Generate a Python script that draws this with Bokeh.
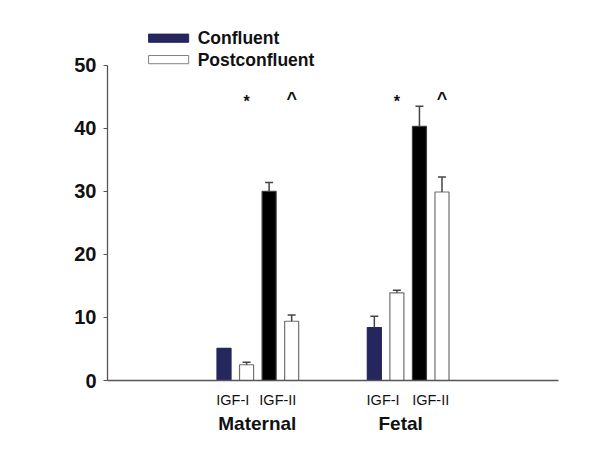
import math
from bokeh.plotting import figure
from bokeh.models import FixedTicker, LinearAxis, Label, Range1d
from bokeh.core.properties import value
from bokeh.embed import file_html
from bokeh.resources import INLINE

# ---- data ----
groups = ["Maternal", "Fetal"]
hormones = ["IGF-I", "IGF-II"]
confluent_igf1 = [5.1, 8.4]
confluent_igf1_err = [0.0, 1.8]
post_igf1 = [2.5, 13.9]
post_igf1_err = [0.4, 0.4]
confluent_igf2 = [30.0, 40.3]
confluent_igf2_err = [1.4, 3.2]
post_igf2 = [9.4, 29.9]
post_igf2_err = [1.0, 2.4]
y_ticks = [0, 10, 20, 30, 40, 50]
legend_labels = ["Confluent", "Postconfluent"]
marks_igf1 = "*"
marks_igf2 = "^"

# ---- layout helpers ----
group_centers = [3.0, 6.0]
offsets = [-0.675, -0.225, 0.225, 0.675]
bar_w = 0.28
FONT = value("Liberation Sans")
NAVY = "#25265e"

p = figure(width=592, height=459, output_backend="svg", toolbar_location=None,
           x_range=Range1d(0, 9), y_range=Range1d(0, 57.9),
           min_border_left=107, min_border_right=34, min_border_top=15, min_border_bottom=79)
p.outline_line_color = None
p.xgrid.visible = False
p.ygrid.visible = False
p.background_fill_color = "white"
p.border_fill_color = "white"

series = [
    (confluent_igf1, confluent_igf1_err, 0, NAVY, NAVY),
    (post_igf1, post_igf1_err, 1, "white", "#707070"),
    (confluent_igf2, confluent_igf2_err, 2, "black", "#404040"),
    (post_igf2, post_igf2_err, 3, "white", "#707070"),
]
for vals, errs, k, fill, line in series:
    xs = [c + offsets[k] for c in group_centers]
    p.vbar(x=xs, top=vals, width=bar_w, bottom=0, fill_color=fill, line_color=line, line_width=1.2)
    ex = [x for x, e in zip(xs, errs) if e > 0]
    ev = [v for v, e in zip(vals, errs) if e > 0]
    et = [v + e for v, e in zip(vals, errs) if e > 0]
    if ex:
        p.segment(x0=ex, y0=ev, x1=ex, y1=et, line_color="#444444", line_width=1.5)
        p.segment(x0=[x - 0.08 for x in ex], y0=et, x1=[x + 0.08 for x in ex], y1=et,
                  line_color="#444444", line_width=1.5)

# significance marks
star_x = [c + offsets[1] for c in group_centers]
hat_x = [c + offsets[3] for c in group_centers]
p.text(x=star_x, y=[44.2, 44.2], text=[marks_igf1, marks_igf1], text_font=FONT,
       text_font_style="bold", text_font_size="16px", text_align="center",
       text_baseline="middle", text_color="#111111")
p.text(x=hat_x, y=[44.6, 44.6], text=[marks_igf2, marks_igf2], text_font=FONT,
       text_font_style="bold", text_font_size="18px", text_align="center",
       text_baseline="middle", text_color="#111111")

# legend
leg_y = [54.3, 50.9]
p.rect(x=[1.22, 1.22], y=leg_y, width=0.8, height=1.3,
       fill_color=[NAVY, "white"], line_color=[NAVY, "#808080"], line_width=1)
p.text(x=[1.80, 1.80], y=leg_y, text=legend_labels, text_font=FONT,
       text_font_style="bold", text_font_size="17.5px", text_baseline="middle",
       text_color="#111111")

# y axis
ya = p.yaxis[0]
ya.ticker = FixedTicker(ticks=y_ticks)
ya.bounds = (0, 50)
ya.axis_line_color = "#555555"
ya.axis_line_width = 1.3
ya.major_tick_line_color = "#555555"
ya.major_tick_out = 4
ya.major_tick_in = 0
ya.minor_tick_line_color = None
ya.major_label_text_font = "Liberation Sans"
ya.major_label_text_font_style = "bold"
ya.major_label_text_font_size = "20px"
ya.major_label_text_color = "#111111"
ya.major_label_standoff = 7

p.add_layout(Label(x=-0.95, y=25, text="IGF Concentration ng/ml", angle=math.pi / 2,
                   text_font="Liberation Sans", text_font_style="bold", text_font_size="20px",
                   text_align="center", text_baseline="middle", text_color="#111111"))

# x axis: hormone labels
xa = p.xaxis[0]
hormone_pos = [2.5, 3.4, 5.5, 6.45]
xa.ticker = FixedTicker(ticks=hormone_pos)
xa.major_label_overrides = {hormone_pos[i]: hormones[i % 2] for i in range(4)}
xa.axis_line_color = "#555555"
xa.axis_line_width = 1.3
xa.major_tick_line_color = None
xa.minor_tick_line_color = None
xa.major_tick_out = 0
xa.major_label_standoff = 11
xa.major_label_text_font = "Liberation Sans"
xa.major_label_text_font_size = "14.5px"
xa.major_label_text_color = "#111111"

# group labels
group_pos = [2.99, 5.85]
ga = LinearAxis(ticker=FixedTicker(ticks=group_pos),
                major_label_overrides={group_pos[i]: groups[i] for i in range(2)})
ga.axis_line_color = None
ga.major_tick_line_color = None
ga.minor_tick_line_color = None
ga.major_tick_out = 0
ga.major_label_standoff = 2
ga.major_label_text_font = "Liberation Sans"
ga.major_label_text_font_style = "bold"
ga.major_label_text_font_size = "19px"
ga.major_label_text_color = "#111111"
p.add_layout(ga, "below")

open("out.html", "w").write(file_html(p, INLINE))
